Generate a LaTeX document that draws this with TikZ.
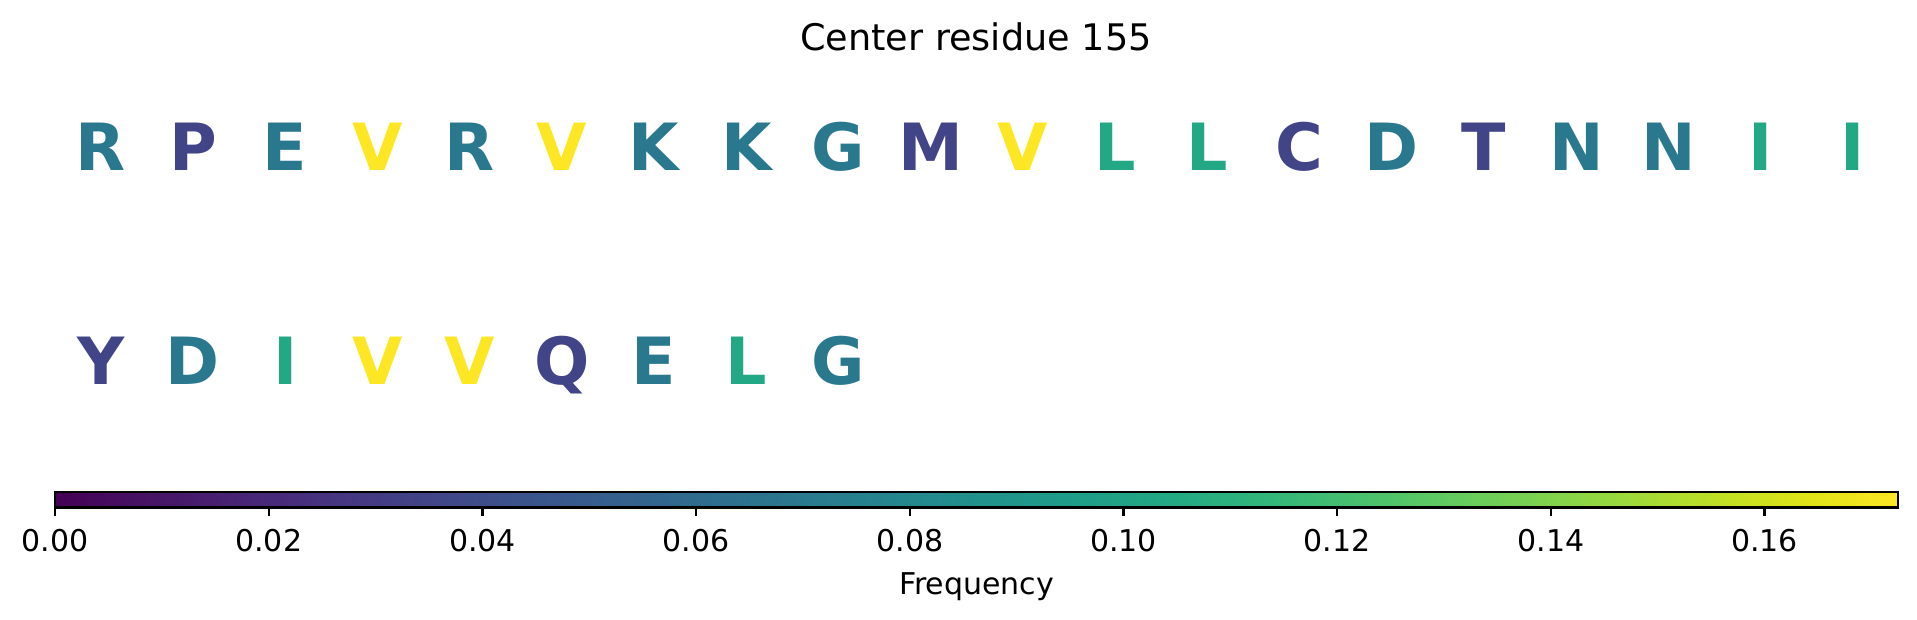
\documentclass[tikz,border=0pt]{standalone}
\usepackage{fontspec}
\setmainfont{DejaVu Sans}
\definecolor{vA}{HTML}{414487}
\definecolor{vB}{HTML}{2A788E}
\definecolor{vC}{HTML}{22A884}
\definecolor{vD}{HTML}{FDE725}
\definecolor{v0}{HTML}{440154}
\definecolor{v1}{HTML}{471365}
\definecolor{v2}{HTML}{482475}
\definecolor{v3}{HTML}{463480}
\definecolor{v4}{HTML}{414487}
\definecolor{v5}{HTML}{3B528B}
\definecolor{v6}{HTML}{355F8D}
\definecolor{v7}{HTML}{2F6C8E}
\definecolor{v8}{HTML}{2A788E}
\definecolor{v9}{HTML}{25848E}
\definecolor{v10}{HTML}{21918C}
\definecolor{v11}{HTML}{1E9C89}
\definecolor{v12}{HTML}{22A884}
\definecolor{v13}{HTML}{2FB47C}
\definecolor{v14}{HTML}{44BF70}
\definecolor{v15}{HTML}{5EC962}
\definecolor{v16}{HTML}{7AD151}
\definecolor{v17}{HTML}{9BD93C}
\definecolor{v18}{HTML}{BDDF26}
\definecolor{v19}{HTML}{DFE318}
\definecolor{v20}{HTML}{FDE725}
\begin{document}
\begin{tikzpicture}[x=0.33333pt,y=-0.33333pt,
  letter/.style={anchor=base,inner sep=0pt,font=\fontsize{21.7}{26}\selectfont\bfseries},
  ticklabel/.style={anchor=base,inner sep=0pt,font=\fontsize{10}{12}\selectfont},
  titlelabel/.style={anchor=base,inner sep=0pt,font=\fontsize{12.2}{14}\selectfont}]
\useasboundingbox (0,0) rectangle (1917,619);
\node[titlelabel] (title) at (976,50) {Center residue 155};
% row 1
\foreach \ch/\col [count=\i from 0] in {R/vB,P/vA,E/vB,V/vD,R/vB,V/vD,K/vB,K/vB,G/vB,M/vA,V/vD,L/vC,L/vC,C/vA,D/vB,T/vA,N/vB,N/vB,I/vC,I/vC}
  \node[letter,text=\col] (r1c\i) at ({100.7+92.22*\i},170.7) {\ch};
% row 2
\foreach \ch/\col [count=\i from 0] in {Y/vA,D/vB,I/vC,V/vD,V/vD,Q/vA,E/vB,L/vC,G/vB}
  \node[letter,text=\col] (r2c\i) at ({100.7+92.22*\i},384) {\ch};
% colorbar
\foreach \i in {0,...,19} {
  \pgfmathtruncatemacro\j{\i+1}
  \shade[left color=v\i,right color=v\j] ({55+\i*92.14-0.6},492) rectangle ({55+(\i+1)*92.14+0.6},507.5);
}
\draw[line width=0.8pt] (55,492) rectangle (1897.8,507.5);
\foreach \lab [count=\k from 0] in {0.00,0.02,0.04,0.06,0.08,0.10,0.12,0.14,0.16} {
  \draw[line width=0.8pt] ({55+213.7*\k},507.5) -- ({55+213.7*\k},516);
  \node[ticklabel] (tick\k) at ({55+213.7*\k},551.7) {\lab};
}
\node[ticklabel] (freq) at (976.5,594) {Frequency};
\end{tikzpicture}
\end{document}
